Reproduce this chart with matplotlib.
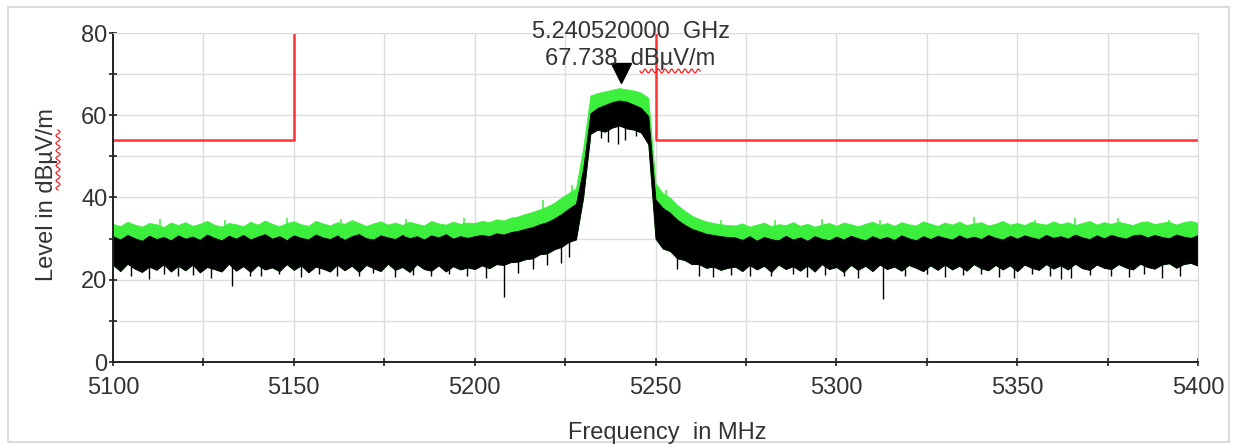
import numpy as np
import matplotlib

matplotlib.use("Agg")
import matplotlib.pyplot as plt
from matplotlib.patches import Rectangle
from matplotlib.transforms import ScaledTranslation

plt.rcParams["font.family"] = ["Liberation Sans", "DejaVu Sans"]

# trace envelopes, one value every 2 MHz from 5100 to 5400
freq = np.arange(5100, 5401, 2)

green_top = [
    33.6, 33.0, 34.1, 33.4, 32.9, 33.8, 33.5, 32.8, 33.9, 33.3,
    34.0, 33.1, 33.6, 34.3, 33.4, 32.9, 33.8, 33.5, 33.0, 34.1,
    33.4, 34.4, 33.6, 33.0, 33.8, 34.2, 33.5, 33.1, 34.3, 33.7,
    33.2, 34.0, 33.6, 34.5, 33.8, 33.1, 33.7, 34.2, 33.4, 33.9,
    33.3, 34.1, 33.6, 33.2, 34.3, 33.7, 33.4, 34.1, 33.6, 33.9,
    # 5200 .. 5270
    33.8, 34.3, 34.0, 34.7, 34.4, 35.1, 35.4, 36.0, 36.5, 37.1,
    37.8, 38.7, 40.0, 41.1, 42.2, 52.0, 64.8, 65.4, 65.8, 66.2,
    66.6, 66.3, 66.0, 65.5, 64.2, 43.5, 41.0, 40.0, 38.2, 36.8,
    35.6, 34.8, 34.2, 33.8, 33.5, 33.3,
    # 5272 .. 5400
    33.2, 33.7, 32.9, 33.4, 33.9, 33.0, 33.5, 33.3, 34.0, 33.1,
    33.6, 32.9, 33.4, 33.8, 33.1, 33.9, 33.5, 33.0, 33.6, 34.1,
    33.3, 33.8, 33.1, 34.0, 33.5, 33.2, 34.2, 33.6, 33.1, 33.9,
    33.4, 34.1, 33.3, 33.7, 34.0, 33.2, 33.6, 34.3, 33.4, 33.8,
    33.3, 34.1, 33.7, 33.4, 34.2, 33.5, 34.0, 33.3, 33.8, 34.3,
    33.4, 34.0, 33.6, 34.1, 33.7, 33.3, 34.0, 34.2, 33.5, 33.9,
    34.1, 33.4, 34.0, 34.3, 33.8,
]

black_top = [
    30.6, 29.8, 30.9, 30.1, 29.5, 30.7, 29.9, 30.4, 29.6, 30.8,
    30.0, 30.5, 29.7, 31.0, 30.2, 29.6, 30.7, 30.0, 30.9, 29.8,
    30.5, 31.1, 30.0, 30.6, 29.7, 30.8, 30.2, 29.8, 31.0, 30.3,
    29.9, 30.8, 29.7, 30.6, 31.1, 30.1, 29.8, 30.8, 30.3, 29.9,
    30.9, 30.1, 30.6, 29.8, 30.8, 30.3, 31.1, 30.0, 30.6, 30.2,
    # 5200 .. 5270
    30.6, 30.9, 30.6, 31.3, 31.0, 31.6, 31.9, 32.4, 32.8, 33.5,
    34.0, 34.9, 36.0, 37.3, 38.5, 47.0, 60.5, 61.8, 62.5, 63.2,
    63.6, 63.3, 62.6, 61.8, 59.8, 39.5, 37.5, 36.3, 34.6, 33.4,
    32.4, 31.8, 31.2, 30.9, 30.6, 30.4,
    # 5272 .. 5400
    30.3, 29.7, 30.6, 29.5, 30.4, 29.9, 29.6, 30.7, 29.8, 30.3,
    29.5, 30.6, 30.0, 29.6, 30.5, 29.8, 30.7, 30.1, 29.6, 30.6,
    29.9, 30.4, 29.7, 30.8, 30.1, 29.6, 30.6, 29.9, 30.7, 30.2,
    29.8, 30.8, 30.0, 30.5, 29.9, 30.9, 30.2, 29.8, 30.7, 30.0,
    30.8, 30.3, 29.9, 30.9, 30.2, 30.6, 30.0, 31.0, 30.3, 29.9,
    30.8, 30.1, 30.9, 30.4, 30.0, 30.8, 31.0, 30.3, 30.9, 30.4,
    30.1, 31.0, 30.5, 30.2, 30.9,
]

black_bottom = [
    23.6, 22.1, 23.9, 22.7, 21.9, 23.2, 22.4, 23.8, 22.0, 23.4,
    22.3, 23.7, 21.8, 23.1, 22.6, 22.0, 23.9, 22.2, 23.3, 21.9,
    23.6, 22.5, 23.0, 22.1, 23.8, 22.4, 23.5, 21.8, 23.2, 22.7,
    22.0, 23.7, 22.3, 23.4, 21.9, 23.6, 22.8, 22.1, 23.9, 22.4,
    23.1, 21.9, 23.8, 22.6, 22.2, 23.5, 22.0, 23.3, 22.5, 23.0,
    # 5200 .. 5270
    22.6, 23.5, 22.8, 23.8, 23.6, 24.3, 24.4, 25.0, 25.2, 26.2,
    26.4, 27.4, 28.0, 29.2, 29.8, 40.0, 55.5, 56.5, 56.0, 57.0,
    57.5, 56.8, 56.5, 55.8, 53.0, 30.0, 27.6, 27.0, 25.2, 24.8,
    23.8, 23.8, 22.9, 23.2, 22.4, 22.9,
    # 5272 .. 5400
    23.2, 22.1, 23.6, 22.5, 23.4, 21.9, 23.7, 22.6, 23.3, 22.2,
    23.5, 22.0, 23.8, 22.6, 23.1, 21.9, 23.6, 22.4, 23.4, 22.1,
    23.7, 22.6, 23.2, 22.2, 23.6, 22.9, 22.1, 23.5, 22.4, 23.7,
    22.5, 23.4, 22.2, 23.8, 22.8, 22.3, 23.6, 22.5, 23.5, 22.1,
    23.7, 22.9, 22.4, 23.8, 22.7, 23.5, 22.5, 23.9, 22.8, 22.4,
    23.7, 22.9, 22.6, 23.8, 23.0, 22.5, 23.9, 23.1, 22.7, 23.7,
    24.0, 22.9, 23.8, 24.1, 23.4,
]

# downward dips of the black trace (MHz, dBuV/m)
dip_freq = [5105, 5110, 5114, 5118, 5122, 5127, 5133, 5138, 5141, 5146,
            5152, 5157, 5162, 5168, 5172, 5178, 5183, 5188, 5193, 5198,
            5203, 5208, 5212, 5216, 5220, 5224, 5226,
            5235, 5237, 5239.5, 5241.5, 5244.5,
            5256, 5262, 5266, 5271, 5276, 5282, 5288, 5292, 5297, 5302,
            5306, 5313, 5319, 5325, 5330, 5335, 5340, 5345, 5349, 5354,
            5359, 5362, 5365, 5370, 5376, 5381, 5385, 5390, 5395]
dip_level = [21.0, 20.2, 21.5, 20.8, 21.2, 20.5, 18.5, 21.0, 20.8, 21.3,
             20.6, 21.4, 21.0, 20.9, 21.6, 20.7, 21.2, 20.9, 21.5, 21.0,
             20.4, 15.8, 21.7, 22.5, 23.5, 24.0, 25.5,
             54.5, 53.5, 53.0, 54.0, 55.0,
             22.5, 21.0, 20.6, 21.2, 21.0, 20.8, 21.5, 20.6, 21.2, 21.0,
             20.5, 15.2, 21.0, 21.4, 20.6, 21.2, 21.5, 20.7, 20.5, 21.3,
             21.0, 20.2, 20.4, 21.2, 21.0, 20.6, 21.3, 20.5, 21.0]

# upward peaks of the green trace
bump_freq = [5113, 5131, 5148, 5163, 5181, 5197, 5219, 5227, 5253, 5268,
             5283, 5296, 5312, 5338, 5355, 5366, 5378, 5392]
bump_level = [34.8, 34.6, 35.0, 34.8, 34.7, 34.9, 39.5, 43.0, 41.8, 34.6,
              34.5, 34.7, 34.5, 35.2, 34.6, 34.9, 35.0, 34.5]

# limit line (dBuV/m) with a gap between the band edges
limit_freq = [5100, 5150, 5150, np.nan, 5250, 5250, 5400]
limit_level = [54, 54, 82, np.nan, 82, 54, 54]

peak_freq = 5240.52
peak_level = 67.738

GREEN = "#3cef3c"
TEXT = "#333333"
FS = 17

fig = plt.figure(figsize=(12.33, 4.44), dpi=100)
ax = fig.add_axes([113 / 1233, 1 - 362 / 444, 1085 / 1233, 329 / 444])

ax.fill_between(freq, black_bottom, green_top, color=GREEN, lw=0.6, ec=GREEN)
bump_base = np.interp(bump_freq, freq, black_top)
ax.vlines(bump_freq, bump_base, bump_level, color=GREEN, lw=1.1)

ax.fill_between(freq, black_bottom, black_top, color="black", lw=0.6, ec="black")
dip_base = np.interp(dip_freq, freq, black_bottom) + 1
ax.vlines(dip_freq, dip_level, dip_base, color="black", lw=1.0)

ax.plot(limit_freq, limit_level, color="#ff3333", lw=1.8)

# marker triangle sits just above the peak value
shift = ScaledTranslation(0, 7.5 / 72, fig.dpi_scale_trans)
ax.plot(peak_freq, peak_level, marker="v", ms=15, color="black",
        transform=ax.transData + shift, clip_on=False)
ax.text(peak_freq + 2.6, 80.2, "5.240520000  GHz", ha="center", va="center",
        fontsize=FS, color=TEXT)
ax.text(peak_freq + 2.6, 73.6, "67.738  dB\u00b5V/m", ha="center", va="center",
        fontsize=FS, color=TEXT)

ax.set_xlim(5100, 5400)
ax.set_ylim(0, 80)
ax.set_xticks(np.arange(5100, 5401, 50))
ax.set_xticks(np.arange(5125, 5400, 50), minor=True)
ax.set_yticks(np.arange(0, 81, 20))
ax.set_yticks(np.arange(10, 80, 20), minor=True)
ax.grid(True, which="both", color="#dcdcdc", lw=1)
ax.set_axisbelow(True)
ax.tick_params(which="both", direction="inout", length=6, width=1.2,
               color="#222222", labelsize=FS, labelcolor=TEXT)
ax.tick_params(axis="x", pad=8)
ax.tick_params(axis="y", pad=1)
for side in ("top", "right"):
    ax.spines[side].set_color("#dcdcdc")
for side in ("left", "bottom"):
    ax.spines[side].set_color("#222222")
    ax.spines[side].set_linewidth(1.4)

fig.text(667 / 1233, 1 - 433 / 444, "Frequency  in MHz", ha="center",
         va="center", fontsize=FS, color=TEXT)
fig.text(47 / 1233, 1 - 195 / 444, "Level in dB\u00b5V/m", ha="center",
         va="center", rotation=90, fontsize=FS, color=TEXT)

# red spell-check squiggles under "dBuV/m"
t = np.linspace(0, 1, 200)
fig.add_artist(plt.Line2D((640 + 60 * t) / 1233,
                          1 - (71 + 2 * np.sin(t * 2 * np.pi * 9)) / 444,
                          color="#ff2020", lw=0.9))
fig.add_artist(plt.Line2D((58 + 2 * np.sin(t * 2 * np.pi * 8)) / 1233,
                          1 - (130 + 60 * t) / 444,
                          color="#ff2020", lw=0.9))

fig.add_artist(Rectangle((8 / 1233, 1 - 442 / 444), 1221 / 1233, 435 / 444,
                         transform=fig.transFigure, fill=False,
                         ec="#d4d4d4", lw=1.2))

fig.savefig("out.png", dpi=100)
